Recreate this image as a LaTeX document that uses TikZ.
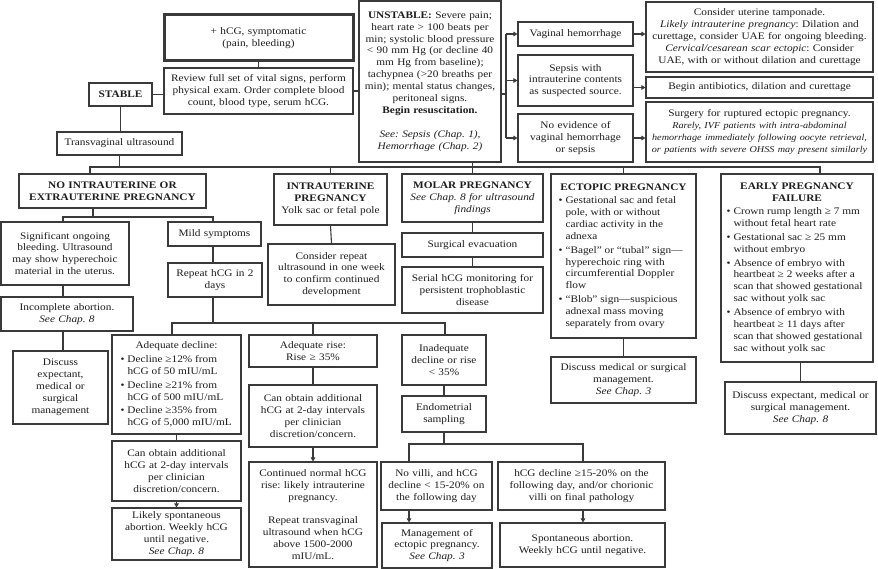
\documentclass[tikz,border=0pt]{standalone}
\usepackage{fontspec}
\setmainfont[FakeStretch=1.13]{Liberation Serif}
\usetikzlibrary{arrows.meta}
\definecolor{linec}{HTML}{3A3A3A}
\definecolor{txtc}{HTML}{1E1E1E}
\frenchspacing
\tikzset{
 box/.style={draw=linec, line width=1.1pt, fill=white, inner xsep=1.5pt, inner ysep=0pt, align=center, text=txtc, font=\fontsize{10}{11.9}\selectfont\frenchspacing},
 thickbox/.style={line width=3pt},
 conn/.style={draw=linec, line width=1.1pt},
 arr/.style={conn, -{Triangle[length=4pt,width=4.5pt]}},
}
\newcommand\bul[1]{\par\hangindent=7pt\hangafter=1\noindent\hbox to 7pt{\textbullet\hfil}{\let\\\newline #1}}
\newcommand\mybox[7][]{%
  \pgfmathsetmacro\mbcx{(#3+#5)/2}%
  \pgfmathsetmacro\mbcy{(#4+#6)/2}%
  \pgfmathsetmacro\mbw{#5-#3}%
  \pgfmathsetmacro\mbh{#6-#4}%
  \pgfmathsetmacro\mbtw{#5-#3-3}%
  \node[box,minimum width=\mbw pt,minimum height=\mbh pt,text width=\mbtw pt,#1] (#2) at (\mbcx,\mbcy) {#7};}
\newcommand\myboxb[7][]{%
  \pgfmathsetmacro\mbcx{(#3+#5)/2}%
  \pgfmathsetmacro\mbcy{(#4+#6)/2}%
  \pgfmathsetmacro\mbw{#5-#3}%
  \pgfmathsetmacro\mbh{#6-#4}%
  \pgfmathsetmacro\mbtw{#5-#3-3}%
  \node[box,minimum width=\mbw pt,minimum height=\mbh pt,inner xsep=0pt,#1] (#2) at (\mbcx,\mbcy) {\parbox{\mbtw pt}{\parskip=1.8pt #7}};}
\begin{document}
\begin{tikzpicture}[x=1pt,y=-1pt]
\useasboundingbox (0,0) rectangle (878,569);
% top area
\mybox[thickbox]{top}{164}{15}{353}{61}{+ hCG, symptomatic\\(pain, bleeding)}
\mybox{review}{164}{68}{353}{114}{Review full set of vital signs, perform\\physical exam. Order complete blood\\count, blood type, serum hCG.}
\mybox{stable}{89}{83}{152}{106}{\textbf{STABLE}}
\mybox{tv}{57}{132}{182}{155}{Transvaginal ultrasound}
\mybox{unstable}{359}{1}{501}{162}{\textbf{UNSTABLE:} Severe pain;\\heart rate > 100 beats per\\min; systolic blood pressure\\< 90 mm Hg (or decline 40\\mm Hg from baseline);\\tachypnea (>20 breaths per\\min); mental status changes,\\peritoneal signs.\\\textbf{Begin resuscitation.}\\[12pt]\textit{See: Sepsis (Chap. 1),}\\\textit{Hemorrhage (Chap. 2)}}
\mybox{vag}{518}{22}{633}{46}{Vaginal hemorrhage}
\mybox{sepsis}{518}{55}{633}{106}{Sepsis with\\intrauterine contents\\as suspected source.}
\mybox{noev}{518}{114}{633}{162}{No evidence of\\vaginal hemorrhage\\or sepsis}
\mybox{cons}{646}{2}{873}{72}{Consider uterine tamponade.\\\textit{Likely intrauterine pregnancy}: Dilation and\\curettage, consider UAE for ongoing bleeding.\\\textit{Cervical/cesarean scar ectopic}: Consider\\UAE, with or without dilation and curettage}
\mybox{abx}{646}{77}{873}{98}{Begin antibiotics, dilation and curettage}
\mybox{surg}{646}{102}{873}{162}{Surgery for ruptured ectopic pregnancy.\\{\fontsize{9}{11.7}\selectfont\itshape Rarely, IVF patients with intra-abdominal\\hemorrhage immediately following oocyte retrieval,\\or patients with severe OHSS may present similarly\par}}
% categories
\mybox{noiu}{19}{174}{206}{208}{\textbf{NO INTRAUTERINE OR}\\\textbf{EXTRAUTERINE PREGNANCY}}
\mybox{iup}{274}{174}{387}{225}{\textbf{INTRAUTERINE}\\\textbf{PREGNANCY}\\Yolk sac or fetal pole}
\mybox{molar}{402}{174}{543}{222}{\textbf{MOLAR PREGNANCY}\\\textit{See Chap. 8 for ultrasound}\\\textit{findings}}
\myboxb{ectopic}{551}{174}{696}{338}{{\centering\textbf{ECTOPIC PREGNANCY}\par}\raggedright\leftskip=6pt
\bul{Gestational sac and fetal\\pole, with or without\\cardiac activity in the\\adnexa}
\bul{“Bagel” or “tubal” sign—\\hyperechoic ring with\\circumferential Doppler\\flow}
\bul{“Blob” sign—suspicious\\adnexal mass moving\\separately from ovary}}
\myboxb{efail}{721}{174}{873}{362}{{\centering\textbf{EARLY PREGNANCY}\\\textbf{FAILURE}\par}\raggedright\leftskip=4pt
\bul{Crown rump length ≥ 7 mm\\without fetal heart rate}
\bul{Gestational sac ≥ 25 mm\\without embryo}
\bul{Absence of embryo with\\heartbeat ≥ 2 weeks after a\\scan that showed gestational\\sac without yolk sac}
\bul{Absence of embryo with\\heartbeat ≥ 11 days after\\scan that showed gestational\\sac without yolk sac}}
% no IU subtree
\mybox{sig}{1}{222}{129}{285}{Significant ongoing\\bleeding. Ultrasound\\may show hyperechoic\\material in the uterus.}
\mybox{mild}{168}{222}{261}{246}{Mild symptoms}
\mybox{inc}{1}{297}{133}{331}{Incomplete abortion.\\\textit{See Chap. 8}}
\mybox{rep}{168}{263}{262}{297}{Repeat hCG in 2\\days}
\mybox{disc1}{13}{351}{108}{424}{Discuss\\expectant,\\medical or\\surgical\\management}
\myboxb{adec}{112}{335}{241}{434}{{\centering Adequate decline:\par}\raggedright\leftskip=7pt
\bul{Decline ≥12\% from\\hCG of 50 mIU/mL}
\bul{Decline ≥21\% from\\hCG of 500 mIU/mL}
\bul{Decline ≥35\% from\\hCG of 5,000 mIU/mL}}
\mybox{can1}{112}{441}{241}{501}{Can obtain additional\\hCG at 2-day intervals\\per clinician\\discretion/concern.}
\mybox{likely}{112}{508}{241}{560}{Likely spontaneous\\abortion. Weekly hCG\\until negative.\\\textit{See Chap. 8}}
% IUP
\mybox{consrep}{268}{244}{395}{305}{Consider repeat\\ultrasound in one week\\to confirm continued\\development}
\mybox{arise}{249}{335}{377}{367}{Adequate rise:\\Rise ≥ 35\%}
\mybox{can2}{249}{385}{377}{447}{Can obtain additional\\hCG at 2-day intervals\\per clinician\\discretion/concern.}
\mybox{cont}{249}{462}{377}{567}{Continued normal hCG\\rise: likely intrauterine\\pregnancy.\\[11pt]Repeat transvaginal\\ultrasound when hCG\\above 1500-2000\\mIU/mL.}
% molar
\mybox{surgev}{402}{233}{543}{257}{Surgical evacuation}
\mybox{serial}{402}{267}{543}{313}{Serial hCG monitoring for\\persistent trophoblastic\\disease}
\mybox{inad}{402}{335}{486}{385}{Inadequate\\decline or rise\\< 35\%}
\mybox{endo}{402}{396}{486}{432}{Endometrial\\sampling}
\mybox{novilli}{381}{462}{492}{510}{No villi, and hCG\\decline < 15-20\% on\\the following day}
\mybox{hcgd}{498}{462}{665}{510}{hCG decline ≥15-20\% on the\\following day, and/or chorionic\\villi on final pathology}
\mybox{mgmt}{382}{523}{492}{568}{Management of\\ectopic pregnancy.\\\textit{See Chap. 3}}
\mybox{spont}{500}{523}{665}{567}{Spontaneous abortion.\\Weekly hCG until negative.}
\mybox{discms}{551}{357}{696}{403}{Discuss medical or surgical\\management.\\\textit{See Chap. 3}}
\mybox{discexp}{725}{382}{876}{434}{Discuss expectant, medical or\\surgical management.\\\textit{See Chap. 8}}
% coordinates
\coordinate (bl) at (90,167);
\coordinate (br) at (820,167);
\coordinate (ub) at (506,94);
\coordinate (nx) at (93,217);
\coordinate (b2l) at (63,217);
\coordinate (b2r) at (213,217);
\coordinate (b3l) at (172,323);
\coordinate (b3r) at (445,323);
\coordinate (b4l) at (409,444);
\coordinate (b4r) at (583,444);
% connectors top
\draw[conn] (top.south) -- (review.north);
\draw[conn] (stable.east) -- (stable.east -| review.west);
\draw[conn] (review.east) -- (review.east -| unstable.west);
\draw[conn] (stable.south) -- (stable.south |- tv.north);
\draw[conn] (tv.south) -- (tv.south |- bl);
\draw[conn] (noiu.north -| bl) -- (bl) -- (br) -- (efail.north -| br);
\draw[conn] (unstable.south -| molar.north) -- (molar.north);
\draw[conn] (iup.north) -- (iup.north |- bl);
\draw[conn] (ectopic.north) -- (ectopic.north |- bl);
\draw[conn] (unstable.east |- ub) -- (ub);
\draw[conn] (ub |- vag.west) -- (ub |- noev.west);
\draw[arr] (ub |- vag.west) -- (vag.west);
\draw[arr] (ub |- sepsis.west) -- (sepsis.west);
\draw[arr] (ub |- noev.west) -- (noev.west);
\draw[arr] (vag.east) -- (vag.east -| cons.west);
\draw[arr] (abx.west -| sepsis.east) -- (abx.west);
\draw[arr] (noev.east) -- (noev.east -| surg.west);
% no IU
\draw[conn] (noiu.south -| nx) -- (nx);
\draw[conn] (sig.north -| b2l) -- (b2l) -- (b2r) -- (mild.north -| b2r);
\draw[conn] (sig.south -| b2l) -- (inc.north -| b2l);
\draw[conn] (inc.south -| b2l) -- (disc1.north -| b2l);
\draw[conn] (mild.south -| b2r) -- (rep.north -| b2r);
\draw[conn] (rep.south -| b2r) -- (b2r |- b3l);
\draw[conn] (adec.north -| b3l) -- (b3l) -- (b3r) -- (inad.north -| b3r);
\draw[conn] (arise.north) -- (arise.north |- b3l);
\draw[conn] (adec.south) -- (can1.north);
\draw[arr] (can1.south) -- (likely.north);
\draw[conn] (arise.south) -- (can2.north);
\draw[arr] (can2.south) -- (cont.north);
% IUP, molar
\draw[conn] (iup.south) -- (consrep.north);
\draw[conn] (molar.south) -- (surgev.north);
\draw[conn] (surgev.south) -- (serial.north);
\draw[conn] (inad.south) -- (endo.north);
\draw[conn] (endo.south) -- (endo.south |- b4l);
\draw[conn] (novilli.north -| b4l) -- (b4l) -- (b4r) -- (hcgd.north -| b4r);
\draw[arr] (novilli.south -| b4l) -- (mgmt.north -| b4l);
\draw[arr] (hcgd.south -| b4r) -- (spont.north -| b4r);
% ectopic, failure
\draw[conn] (ectopic.south) -- (discms.north);
\draw[conn] (discexp.north) -- (discexp.north |- efail.south);
\end{tikzpicture}
\end{document}
